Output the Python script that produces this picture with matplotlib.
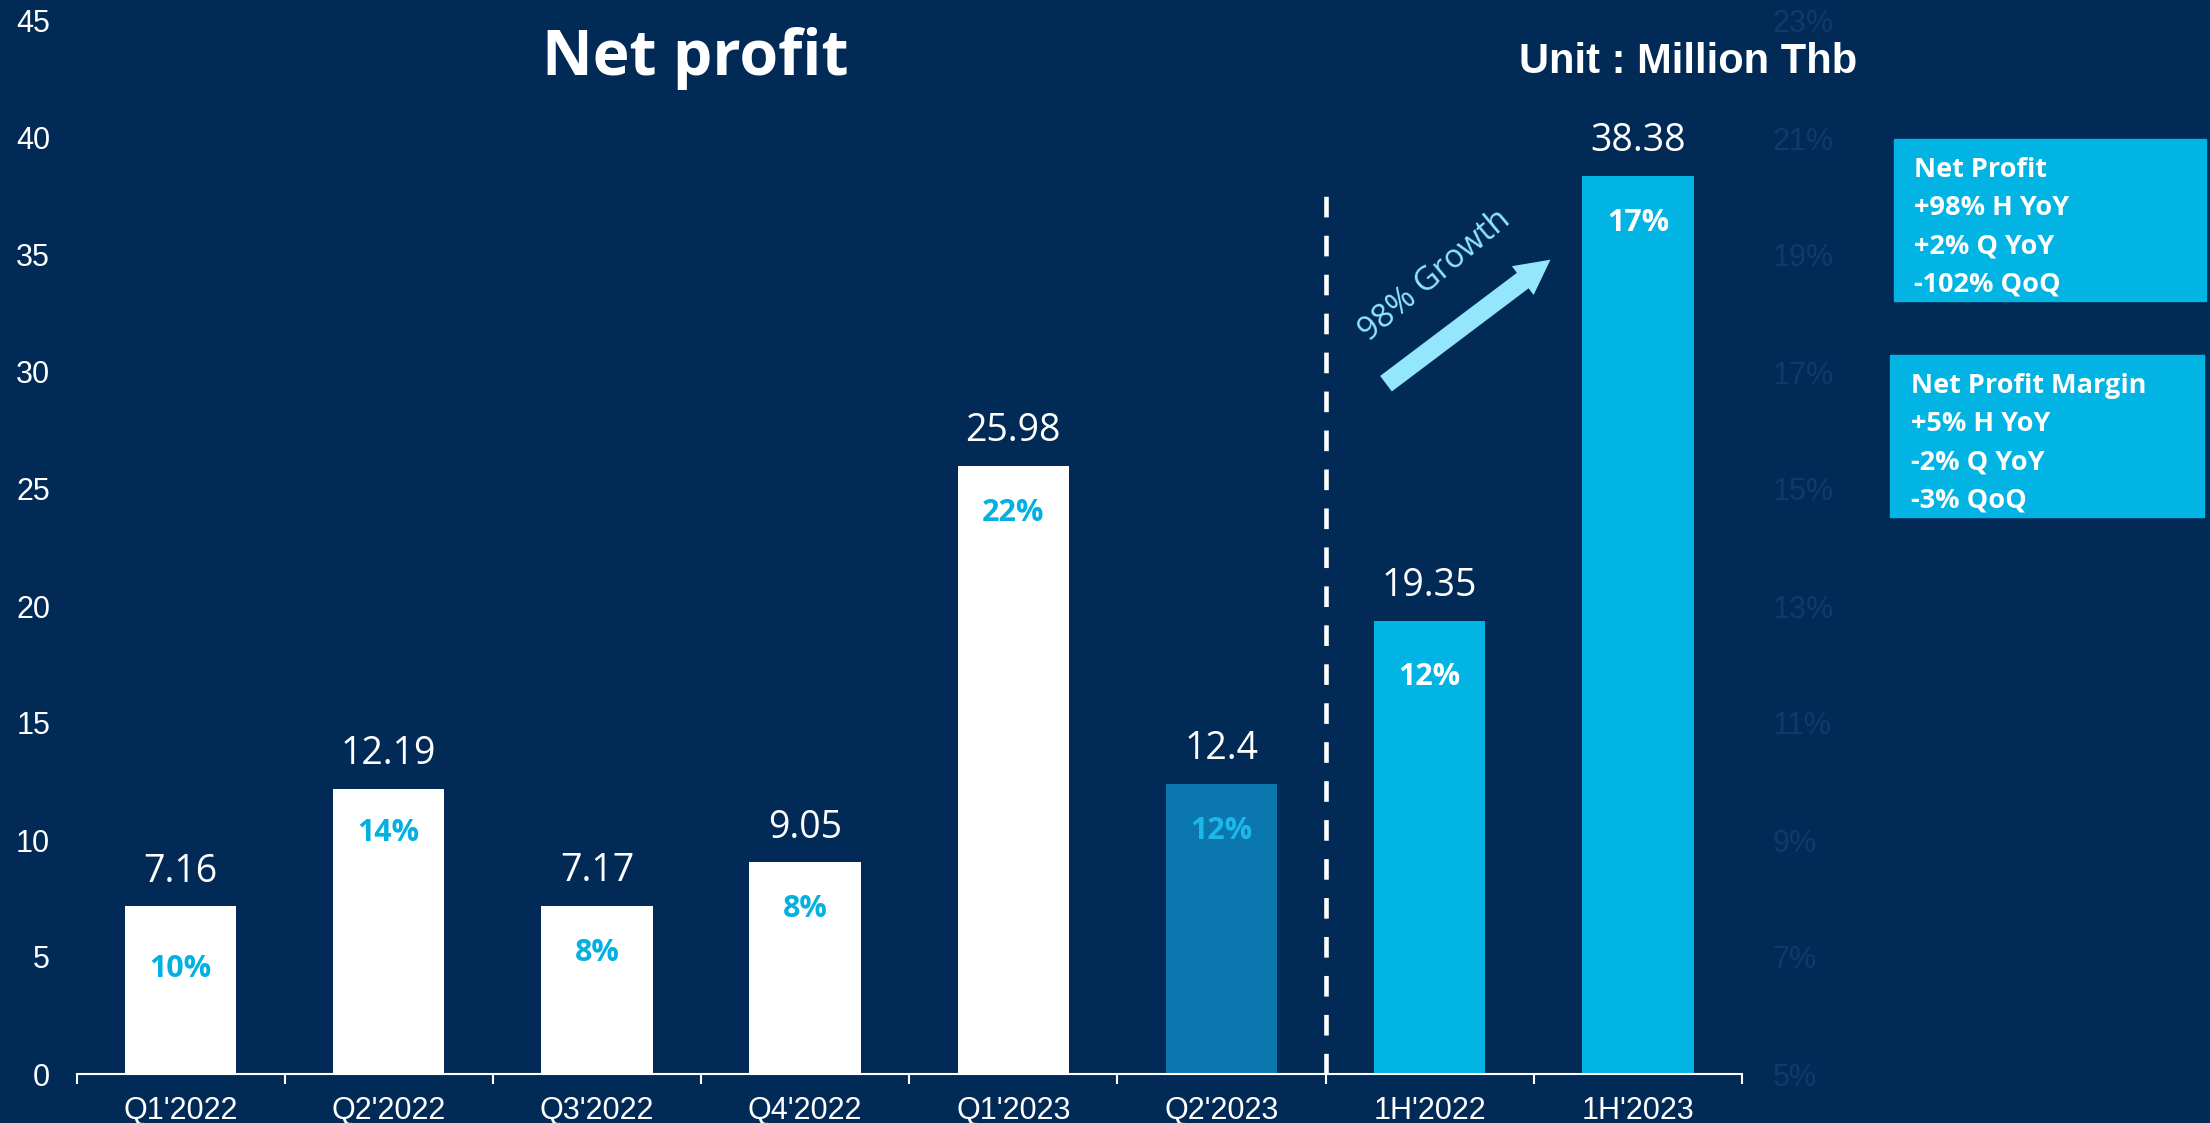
import numpy as np
import matplotlib
matplotlib.use("Agg")
import matplotlib.pyplot as plt
from matplotlib.patches import Rectangle

# data
periods = ["Q1'2022", "Q2'2022", "Q3'2022", "Q4'2022", "Q1'2023", "Q2'2023", "1H'2022", "1H'2023"]
net_profit = [7.16, 12.19, 7.17, 9.05, 25.98, 12.4, 19.35, 38.38]
value_labels = ["7.16", "12.19", "7.17", "9.05", "25.98", "12.4", "19.35", "38.38"]
margin_pct = [10, 14, 8, 8, 22, 12, 12, 17]
margin_ticks = [5, 7, 9, 11, 13, 15, 17, 19, 21, 23]
np_box_lines = ["Net Profit", "+98% H YoY", "+2% Q YoY", "-102% QoQ"]
npm_box_lines = ["Net Profit Margin", "+5% H YoY", "-2% Q YoY", "-3% QoQ"]

# colours / layout
bg = "#022a57"
cyan = "#02b4e4"
bar_colors = ["white"] * 5 + ["#0a78ae", cyan, cyan]
pct_colors = ["#02b0e2"] * 5 + ["#1cb8ea", "white", "white"]
pct_drop = [-45, -32, -34, -34, -34, -34, -40, -34]  # points below bar top
arrow_col = "#93e6fb"

W, H = 2210, 1123
fig = plt.figure(figsize=(W / 100, H / 100), dpi=100, facecolor=bg)
ax = fig.add_axes([76.5 / W, 1 - 1074 / H, (1742 - 76.5) / W, (1074 - 21) / H])
ax.set_facecolor(bg)

x = np.arange(len(periods))
ax.bar(x, net_profit, width=0.535, color=bar_colors, zorder=2)
ax.set_xlim(-0.5, len(periods) - 0.5)
ax.set_ylim(0, 45)
ax.set_yticks(range(0, 46, 5))
ax.tick_params(axis="y", length=0, pad=19, labelsize=22, labelcolor="white")
ax.set_xticks(x)
ax.set_xticklabels(periods)
ax.set_xticks(np.arange(-0.5, len(periods)), minor=True)
ax.tick_params(axis="x", which="major", length=0, pad=16, labelsize=22, labelcolor="white")
ax.tick_params(axis="x", which="minor", length=7, width=1.5, color="white", direction="out")
for lab in ax.get_xticklabels() + ax.get_yticklabels():
    lab.set_family("Liberation Sans")
for s in ["top", "left", "right"]:
    ax.spines[s].set_visible(False)
ax.spines["bottom"].set_color("white")
ax.spines["bottom"].set_linewidth(1.5)

# right axis (margin %), barely visible
ax2 = ax.twinx()
ax2.set_ylim(5, 23)
ax2.set_yticks(margin_ticks)
ax2.set_yticklabels([f"{t}%" for t in margin_ticks])
ax2.tick_params(axis="y", length=0, pad=22, labelsize=22, labelcolor="#0d3c6c")
for lab in ax2.get_yticklabels():
    lab.set_family("Liberation Sans")
for s in ax2.spines.values():
    s.set_visible(False)

# labels on bars
for xi, v, lbl, m, pc, dy in zip(x, net_profit, value_labels, margin_pct, pct_colors, pct_drop):
    ax.annotate(lbl, (xi, v), xytext=(0, 25), textcoords="offset points",
                ha="center", va="center", fontsize=27, color="white", family="Open Sans")
    ax.annotate(f"{m}%", (xi, v), xytext=(0, dy), textcoords="offset points",
                ha="center", va="center", fontsize=22, fontweight="bold", color=pc,
                family="Open Sans", zorder=3)

# divider between quarters and halves
ax.plot([5.5, 5.5], [0, 37.7], color="white", lw=3.3, dashes=(4.5, 4), zorder=1)

# growth arrow
ax.annotate("", xy=(6.58, 34.8), xytext=(5.79, 29.5),
            arrowprops=dict(arrowstyle="simple,head_length=1.25,head_width=1.3,tail_width=0.7",
                            mutation_scale=20, color=arrow_col, shrinkA=0, shrinkB=0, lw=0))
fig.text(1435 / W, 1 - 276 / H, "98% Growth", rotation=40, ha="center", va="center",
         fontsize=23.5, color=arrow_col, family="Open Sans", rotation_mode="anchor")

# titles
fig.text(695 / W, 1 - 58 / H, "Net profit", ha="center", va="center",
         fontsize=45, fontweight="bold", color="white", family="Open Sans")
fig.text(1688 / W, 1 - 62 / H, "Unit : Million Thb", ha="center", va="center",
         fontsize=30, fontweight="bold", color="white", family="Liberation Sans")

# side boxes
def side_box(x0, x1, y0, y1, tx, ty, lines):
    fig.patches.append(Rectangle((x0 / W, 1 - y1 / H), (x1 - x0) / W, (y1 - y0) / H,
                                 transform=fig.transFigure, color=cyan, zorder=0))
    for i, t in enumerate(lines):
        fig.text(tx / W, 1 - (ty + 38.2 * i) / H, t, ha="left", va="center",
                 fontsize=19.5, fontweight="bold", color="white", family="Open Sans")

side_box(1894, 2206, 139, 301, 1914, 170, np_box_lines)
side_box(1890, 2204, 355, 517, 1911, 386, npm_box_lines)

fig.savefig("out.png", dpi=100, facecolor=bg)
